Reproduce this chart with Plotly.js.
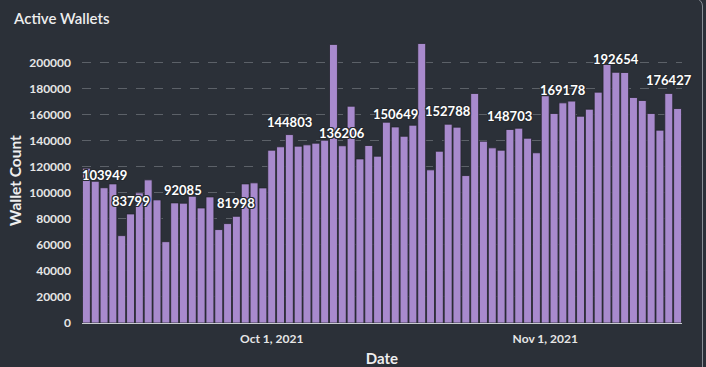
<!DOCTYPE html>
<html>
<head>
<meta charset="utf-8">
<script src="https://cdn.plot.ly/plotly-3.0.1.min.js"></script>
<style>
html,body{margin:0;padding:0;background:#2b3038;overflow:hidden;}
#wrap{position:relative;width:706px;height:367px;}
#chart{position:absolute;left:0;top:0;width:706px;height:367px;}
#panel{position:absolute;left:-20px;top:-2px;width:721px;height:400px;border:1px solid #8a8f96;border-radius:8px;pointer-events:none;}
</style>
</head>
<body>
<div id="wrap"><div id="chart"></div><div id="panel"></div></div>
<script>
const startDate = '2021-09-10';
const walletCounts = [
  119000,108900,103949,106900,67150,83799,100000,110000,94600,62500,
  92300,92085,97400,88400,96900,71800,76400,81998,106900,107700,
  103800,132800,135400,144803,135900,136900,138200,140500,214100,136206,
  166600,126100,136400,128200,154300,150649,143500,152000,214800,117700,
  132000,152788,150500,113300,176400,139700,134600,132800,148703,149700,
  142000,130800,174600,161000,169178,170500,158900,164300,177400,198700,
  192654,192500,173300,171000,161000,148200,176427,164800
];
const labelDates = ['2021-09-12','2021-09-15','2021-09-21','2021-09-27','2021-10-03','2021-10-09','2021-10-15','2021-10-21','2021-10-28','2021-11-03','2021-11-09','2021-11-15'];
const labelValues = [103949,83799,92085,81998,144803,136206,150649,152788,148703,169178,192654,176427];
const tickDates = ['2021-10-01','2021-11-01'];
const yTicks = [0,20000,40000,60000,80000,100000,120000,140000,160000,180000,200000];

function addDays(s, n){
  const d = new Date(s + 'T00:00:00Z');
  d.setUTCDate(d.getUTCDate() + n);
  return d.toISOString().slice(0,10);
}
const dates = walletCounts.map((v,i)=>addDays(startDate,i));

const font = 'Lato, "Open Sans", sans-serif';
const outline = '#262a30';
const shadow = `-1px -1px 0 ${outline}, 1px -1px 0 ${outline}, -1px 1px 0 ${outline}, 1px 1px 0 ${outline}, 0 1px 0 ${outline}, 0 -1px 0 ${outline}, 1px 0 0 ${outline}, -1px 0 0 ${outline}`;
const data = [
  {type:'bar', x:dates, y:walletCounts, marker:{color:'#a88acd', line:{width:0.8, color:'#23262c'}}, hoverinfo:'x+y'}
];
const annotations = labelDates.map((d,i)=>({
  x:d, y:labelValues[i], xref:'x', yref:'y', text:String(labelValues[i]),
  showarrow:false, xanchor:'center', yanchor:'bottom', yshift:3,
  font:{family:font, size:13, color:'#ffffff', weight:'bold', shadow:shadow}
}));
const layout = {
  width:706, height:367,
  paper_bgcolor:'#2b3038', plot_bgcolor:'#2b3038',
  margin:{l:82, r:24, t:38, b:44},
  showlegend:false,
  bargap:0.1,
  annotations:annotations,
  title:{text:'Active Wallets', x:0.02, xanchor:'left', y:0.95, yanchor:'middle', font:{family:font, size:15, color:'#eeeeee', weight:600}},
  xaxis:{type:'date', range:['2021-09-09 12:00','2021-11-16 12:00'],
    tickvals:tickDates, tickformat:'%b %-d, %Y', ticks:'', ticklabelstandoff:5, showgrid:false,
    showline:true, linecolor:'#c9ccd0', linewidth:1, zeroline:false,
    tickfont:{family:font, size:12, color:'#e6e6e6', weight:'bold'},
    title:{text:'Date', standoff:10, font:{family:font, size:15, color:'#eeeeee', weight:'bold'}}},
  yaxis:{range:[0,219000], tickvals:yTicks, tickformat:'d', ticks:'', ticklabelstandoff:10,
    showgrid:true, gridcolor:'#5c6168', griddash:'dash', gridwidth:1, zeroline:false,
    tickfont:{family:font, size:12, color:'#e6e6e6', weight:'bold'},
    title:{text:'Wallet Count', standoff:3, font:{family:font, size:15.5, color:'#eeeeee', weight:'bold'}}}
};
Plotly.newPlot('chart', data, layout, {displayModeBar:false, staticPlot:true});
</script>
</body>
</html>
